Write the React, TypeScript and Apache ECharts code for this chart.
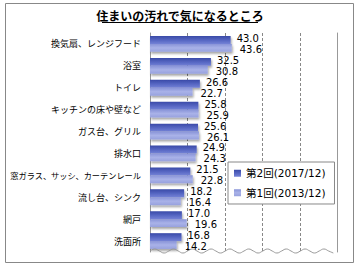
import React, { useEffect, useRef } from "react";
import * as echarts from "echarts";

const categories = [
  "換気扇、レンジフード",
  "浴室",
  "トイレ",
  "キッチンの床や壁など",
  "ガス台、グリル",
  "排水口",
  "窓ガラス、サッシ、カーテンレール",
  "流し台、シンク",
  "網戸",
  "洗面所",
];
const round2 = [43.0, 32.5, 26.6, 25.8, 25.6, 24.9, 21.5, 18.2, 17.0, 16.8];
const round1 = [43.6, 30.8, 22.7, 25.9, 26.1, 24.3, 22.8, 16.4, 19.6, 14.2];
const seriesNames = ["第2回(2017/12)", "第1回(2013/12)"];

const GRID_LEFT = 150;
const GRID_TOP = 33;
const GRID_W = 187.5;
const GRID_H = 219;

export default function App() {
  const ref = useRef<HTMLDivElement>(null);
  useEffect(() => {
    if (!ref.current) return;
    const chart = echarts.init(ref.current, null, { renderer: "svg" });
    const wave: number[][] = [];
    for (let x = GRID_LEFT; x <= GRID_LEFT + GRID_W; x += 4.7) {
      const i = Math.round((x - GRID_LEFT) / 4.7);
      wave.push([x, GRID_TOP + GRID_H - 1 + (i % 4 === 1 ? -2 : i % 4 === 3 ? 2 : 0)]);
    }
    const font = "'Noto Sans CJK JP', sans-serif";
    const darkGrad = new echarts.graphic.LinearGradient(0, 0, 0, 1, [
      { offset: 0, color: "#3a4aa8" },
      { offset: 0.55, color: "#5868c4" },
      { offset: 1, color: "#7482d6" },
    ]);
    const lightGrad = new echarts.graphic.LinearGradient(0, 0, 0, 1, [
      { offset: 0, color: "#8893d8" },
      { offset: 0.5, color: "#a9b2e8" },
      { offset: 1, color: "#97a1de" },
    ]);
    const valueLabel = (distance: number, dy: number) => ({
      show: true,
      position: "right",
      distance,
      offset: [0, dy],
      formatter: (p: any) => Number(p.value).toFixed(1),
      fontFamily: "'DejaVu Sans', sans-serif",
      fontSize: 10,
      lineHeight: 10,
      color: "#000",
    });
    chart.setOption({
      animation: false,
      backgroundColor: "#ffffff",
      grid: {
        left: GRID_LEFT,
        top: GRID_TOP,
        width: GRID_W,
        height: GRID_H,
        containLabel: false,
        outerBoundsMode: "none",
      },
      legend: {
        orient: "vertical",
        left: 228,
        top: 162,
        data: seriesNames,
        icon: "rect",
        itemWidth: 7,
        itemHeight: 7,
        itemGap: 9,
        padding: [6, 9, 6, 6],
        borderColor: "#888",
        borderWidth: 1,
        backgroundColor: "#fff",
        textStyle: { fontFamily: "'DejaVu Sans', " + font, fontSize: 10.5, color: "#000" },
      },
      xAxis: {
        type: "value",
        min: 0,
        max: 100,
        interval: 20,
        axisLine: { show: false },
        axisTick: { show: false },
        axisLabel: { show: false },
        splitLine: {
          show: true,
          lineStyle: { color: "#888", type: [3, 2], width: 1 },
        },
      },
      yAxis: [
        {
          type: "category",
          data: categories,
          inverse: true,
          axisLine: { show: true, lineStyle: { color: "#999" } },
          axisTick: { show: false },
          axisLabel: {
            fontFamily: font,
            fontSize: 9,
            color: "#000",
            margin: 9,
            formatter: (v: string) => (v.length > 12 ? "{s|" + v + "}" : v),
            rich: { s: { fontFamily: font, fontSize: 8.2, color: "#000" } },
          },
        },
        {
          type: "category",
          data: categories,
          inverse: true,
          position: "right",
          axisLine: { show: true, lineStyle: { color: "#999" } },
          axisTick: { show: false },
          axisLabel: { show: false },
        },
      ],
      series: [
        {
          name: seriesNames[0],
          type: "bar",
          data: round2,
          barGap: "0%",
          barCategoryGap: "28%",
          itemStyle: {
            color: darkGrad,
            shadowColor: "rgba(0,0,0,0.35)",
            shadowOffsetY: 2,
            shadowOffsetX: 1,
            shadowBlur: 2,
          },
          label: valueLabel(6, -1.6),
        },
        {
          name: seriesNames[1],
          type: "bar",
          data: round1,
          barGap: "0%",
          barCategoryGap: "28%",
          itemStyle: {
            color: lightGrad,
            shadowColor: "rgba(0,0,0,0.35)",
            shadowOffsetY: 2,
            shadowOffsetX: 1,
            shadowBlur: 2,
          },
          label: valueLabel(8, 1.6),
        },
      ],
      graphic: [
        {
          type: "rect",
          shape: { x: 5.5, y: 3.5, width: 348, height: 259 },
          style: { fill: "none", stroke: "#888", lineWidth: 1 },
          silent: true,
          z: 100,
        },
        {
          type: "text",
          x: 180,
          y: 15,
          style: {
            text: "住まいの汚れで気になるところ",
            fontFamily: font,
            fontWeight: "bold",
            fontSize: 12,
            fill: "#000",
            align: "center",
            verticalAlign: "middle",
          },
        },
        {
          type: "line",
          shape: { x1: 102, y1: 22.5, x2: 258, y2: 22.5 },
          style: { stroke: "#000", lineWidth: 1 },
        },
        {
          type: "polyline",
          shape: { points: wave, smooth: 0.5 },
          style: { stroke: "#999", fill: "none", lineWidth: 1 },
          z: 50,
        },
      ],
    });
    return () => chart.dispose();
  }, []);
  return (
    <div
      ref={ref}
      style={{ position: "fixed", left: 0, top: 0, width: 360, height: 270 }}
    />
  );
}
